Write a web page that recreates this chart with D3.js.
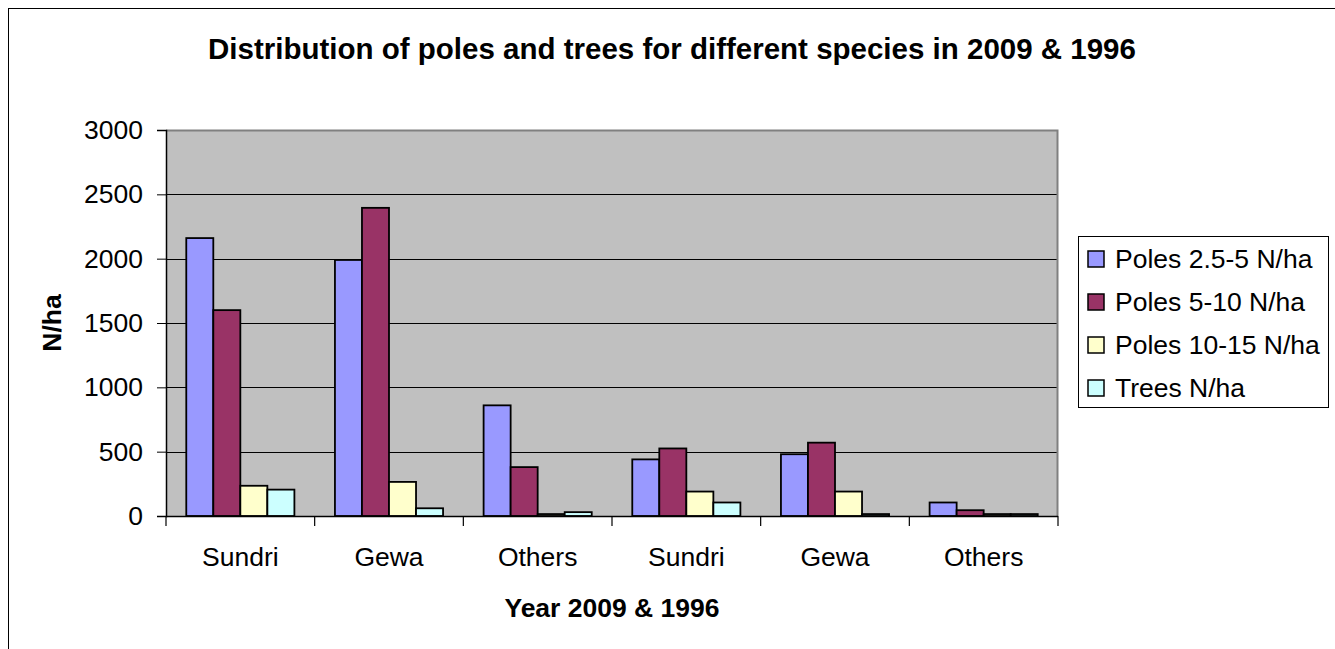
<!DOCTYPE html>
<html>
<head>
<meta charset="utf-8">
<script src="https://cdn.jsdelivr.net/npm/d3@7"></script>
<style>
  html, body { margin: 0; padding: 0; background: #fff; }
  svg { display: block; font-family: "Liberation Sans", Arial, sans-serif; }
</style>
</head>
<body>
<svg id="chart" width="1335" height="649"></svg>
<script>
// Categories along the x axis (2009 group then 1996 group)
const categories = ["Sundri", "Gewa", "Others", "Sundri", "Gewa", "Others"];
// Series names
const seriesNames = ["Poles 2.5-5 N/ha", "Poles 5-10 N/ha", "Poles 10-15 N/ha", "Trees N/ha"];
// Values per series (N/ha)
const poles25to5 = [2160, 1990, 860, 440, 480, 105];
const poles5to10 = [1600, 2395, 380, 525, 570, 45];
const poles10to15 = [235, 265, 15, 190, 190, 15];
const treesNha = [205, 60, 30, 105, 15, 15];
// Y axis ticks
const yTicks = [0, 500, 1000, 1500, 2000, 2500, 3000];

const seriesValues = [poles25to5, poles5to10, poles10to15, treesNha];
const colors = ["#9999FF", "#993366", "#FFFFCC", "#CCFFFF"];

const svg = d3.select("#chart");
const plot = { left: 166, right: 1058, top: 130, bottom: 516 };

// Outer chart frame
svg.append("rect")
  .attr("x", 8.5).attr("y", 8.5)
  .attr("width", 1400).attr("height", 700)
  .attr("fill", "#fff").attr("stroke", "#000").attr("stroke-width", 1);

// Title
svg.append("text")
  .attr("x", 672).attr("y", 59)
  .attr("text-anchor", "middle")
  .attr("font-weight", "bold")
  .attr("font-size", 29.5)
  .text("Distribution of poles and trees for different species in 2009 & 1996");

const x0 = d3.scaleBand()
  .domain(d3.range(categories.length))
  .range([plot.left, plot.right])
  .paddingInner(0).paddingOuter(0);

const x1 = d3.scaleBand()
  .domain(d3.range(seriesNames.length))
  .range([0, x0.bandwidth()])
  .paddingInner(0).paddingOuter(0.75);

const y = d3.scaleLinear().domain([0, 3000]).range([plot.bottom, plot.top]);

// Plot area background
svg.append("rect")
  .attr("x", plot.left).attr("y", plot.top)
  .attr("width", plot.right - plot.left).attr("height", plot.bottom - plot.top)
  .attr("fill", "#C0C0C0");

// Gridlines
svg.append("g")
  .selectAll("line")
  .data(yTicks.filter(t => t > 0 && t < 3000))
  .join("line")
  .attr("x1", plot.left).attr("x2", plot.right)
  .attr("y1", d => Math.round(y(d)) + 0.5).attr("y2", d => Math.round(y(d)) + 0.5)
  .attr("stroke", "#000").attr("stroke-width", 1);

// Plot area border (top and right)
svg.append("path")
  .attr("d", `M${plot.left},${plot.top + 0.5}H${plot.right - 0.5}V${plot.bottom}`)
  .attr("fill", "none").attr("stroke", "#808080").attr("stroke-width", 2);

// Bars
const groups = svg.append("g")
  .selectAll("g")
  .data(categories.map((c, i) => i))
  .join("g")
  .attr("transform", i => `translate(${x0(i)},0)`);

groups.selectAll("rect")
  .data(i => seriesValues.map((vals, s) => ({ s, v: vals[i] })))
  .join("rect")
  .attr("x", d => x1(d.s))
  .attr("y", d => y(d.v))
  .attr("width", x1.bandwidth())
  .attr("height", d => plot.bottom - y(d.v))
  .attr("fill", d => colors[d.s])
  .attr("stroke", "#000")
  .attr("stroke-width", 1.8);

// Y axis
const yAxis = d3.axisLeft(y)
  .tickValues(yTicks)
  .tickSize(9)
  .tickPadding(14)
  .tickFormat(d3.format("d"));

const gy = svg.append("g")
  .attr("transform", `translate(${plot.left},0)`)
  .call(yAxis);
gy.select(".domain").attr("stroke", "#000").attr("stroke-width", 1.5);
gy.selectAll(".tick line").attr("stroke", "#000");
gy.selectAll(".tick text")
  .attr("font-family", "'Liberation Sans', Arial, sans-serif")
  .attr("font-size", 26.5).attr("fill", "#000");

// X axis: ticks at category boundaries
const boundaries = d3.range(categories.length + 1).map(i =>
  i < categories.length ? x0(i) : plot.right);
svg.append("line")
  .attr("x1", plot.left).attr("x2", plot.right)
  .attr("y1", plot.bottom + 0.5).attr("y2", plot.bottom + 0.5)
  .attr("stroke", "#000").attr("stroke-width", 1.5);
svg.append("g")
  .selectAll("line")
  .data(boundaries)
  .join("line")
  .attr("x1", d => d).attr("x2", d => d)
  .attr("y1", plot.bottom).attr("y2", plot.bottom + 10)
  .attr("stroke", "#000").attr("stroke-width", 1.2);

svg.append("g")
  .selectAll("text")
  .data(categories.map((c, i) => ({ c, i })))
  .join("text")
  .attr("x", d => x0(d.i) + x0.bandwidth() / 2)
  .attr("y", 566)
  .attr("text-anchor", "middle")
  .attr("font-size", 26.5)
  .text(d => d.c);

// Axis titles
svg.append("text")
  .attr("x", (plot.left + plot.right) / 2).attr("y", 617)
  .attr("text-anchor", "middle")
  .attr("font-weight", "bold").attr("font-size", 26.5)
  .text("Year 2009 & 1996");

svg.append("text")
  .attr("transform", `translate(61,${(plot.top + plot.bottom) / 2}) rotate(-90)`)
  .attr("text-anchor", "middle")
  .attr("font-weight", "bold").attr("font-size", 26.5)
  .text("N/ha");

// Legend
const legend = svg.append("g");
legend.append("rect")
  .attr("x", 1078.5).attr("y", 236.5)
  .attr("width", 250).attr("height", 171)
  .attr("fill", "#fff").attr("stroke", "#000").attr("stroke-width", 1);

const items = legend.selectAll("g.item")
  .data(seriesNames.map((n, i) => ({ n, i })))
  .join("g")
  .attr("class", "item")
  .attr("transform", d => `translate(0,${259 + d.i * 43})`);

items.append("rect")
  .attr("x", 1088).attr("y", -8)
  .attr("width", 16).attr("height", 16)
  .attr("fill", d => colors[d.i])
  .attr("stroke", "#000").attr("stroke-width", 1.5);

items.append("text")
  .attr("x", 1115).attr("y", 0)
  .attr("dy", "0.35em")
  .attr("font-size", 26.5)
  .text(d => d.n);
</script>
</body>
</html>
